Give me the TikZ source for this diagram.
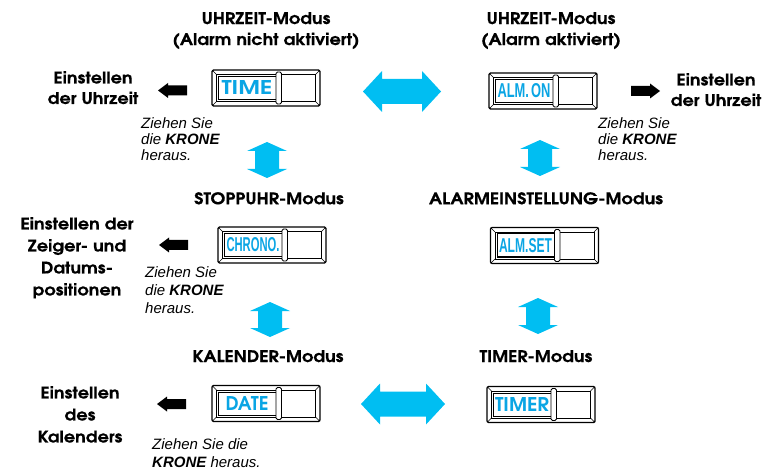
\documentclass[tikz,border=0pt]{standalone}
\usepackage{fontspec}
\setmainfont{Liberation Sans}
\newfontfamily\geo{texgyreadventor}[Extension=.otf, UprightFont=*-regular, BoldFont=*-bold, FakeStretch=1.11, BoldFeatures={FakeBold=0.5}]
\newfontfamily\lcdgeo{texgyreadventor}[Extension=.otf, UprightFont=*-regular, BoldFont=*-bold]
\usetikzlibrary{calc}

\definecolor{modeblue}{RGB}{0,190,242}
\definecolor{lcdblue}{RGB}{10,165,228}

\tikzset{
    mode/.style={font=\geo\bfseries\fontsize{16}{21}\selectfont, align=center, inner sep=0pt, anchor=north},
    setting/.style={font=\geo\bfseries\fontsize{16}{20.5}\selectfont, align=center, inner sep=0pt, anchor=north},
    hint/.style={font=\itshape\fontsize{15}{16}\selectfont, align=left, inner sep=0pt, anchor=north west},
    lcdframe/.style={draw, line width=1.4pt, rounded corners=1.5pt, minimum width=108pt, minimum height=36pt, inner sep=0pt}
}

% LCD window: name, position, text width, text
\newcommand\lcd[4]{%
    \node[lcdframe] (#1) at #2 {};
    \begin{scope}[shift={(#1.center)}]
        \draw[line width=0.6pt] (-49.5,-13.5) rectangle (49.5,13.5);
        \draw[line width=0.6pt] (-54,-18) -- (-49.5,-13.5) (54,-18) -- (49.5,-13.5)
            (-54,18) -- (-49.5,13.5) (54,18) -- (49.5,13.5);
        \draw[line width=1pt] (-47.5,-11.5) rectangle (10,11.5);
        \draw[fill=white, rounded corners=1.5pt, line width=0.8pt] (10,-16) rectangle (15.5,16);
        \node[lcdblue, inner sep=0pt] (#1-txt) at (-19,0) {\resizebox{#3}{14pt}{#4}};
    \end{scope}
}

% blue double arrows, tip to tip
\newcommand\dblarrowH[2]{%
    \fill[modeblue] (#1) -- ($(#1)+(19,-20.5)$) -- ($(#1)+(19,-12.5)$) -- ($(#2)+(-19,-12.5)$)
        -- ($(#2)+(-19,-20.5)$) -- (#2) -- ($(#2)+(-19,20.5)$) -- ($(#2)+(-19,12.5)$)
        -- ($(#1)+(19,12.5)$) -- ($(#1)+(19,20.5)$) -- cycle;
}
\newcommand\dblarrowV[2]{%
    \fill[modeblue] (#1) -- ($(#1)+(20,9)$) -- ($(#1)+(12,9)$) -- ($(#2)+(12,-9)$)
        -- ($(#2)+(20,-9)$) -- (#2) -- ($(#2)+(-20,-9)$) -- ($(#2)+(-12,-9)$)
        -- ($(#1)+(-12,9)$) -- ($(#1)+(-20,9)$) -- cycle;
}
% black arrow: tip, direction (1 left, -1 right)
\newcommand\setarrow[2]{%
    \fill[shift={(#1)}, xscale=#2] (0,0) -- (10,-7.5) -- (10,-5) -- (29,-5) -- (29,5) -- (10,5) -- (10,7.5) -- cycle;
}

\begin{document}
\begin{tikzpicture}[x=1pt, y=-1pt]
\useasboundingbox (0,0) rectangle (773,470);

% headers
\node[mode] (hdrTime) at (266,12) {UHRZEIT-Modus\\(Alarm nicht aktiviert)};
\node[mode] (hdrAlm) at (551,12) {UHRZEIT-Modus\\(Alarm aktiviert)};
\node[mode] (hdrStop) at (269,192) {STOPPUHR-Modus};
\node[mode] (hdrAlmSet) at (546,192) {ALARMEINSTELLUNG-Modus};
\node[mode] (hdrCal) at (268,350) {KALENDER-Modus};
\node[mode] (hdrTimer) at (536,350) {TIMER-Modus};

% windows
\lcd{time}{(266,88)}{51pt}{\lcdgeo\bfseries TIME}
\lcd{almon}{(543,91)}{53pt}{\bfseries ALM.\,ON}
\lcd{chrono}{(272,245)}{53pt}{\bfseries CHRONO.}
\lcd{almset}{(544.5,245.5)}{53pt}{\bfseries ALM.SET}
\lcd{date}{(266,403.5)}{43pt}{\lcdgeo\bfseries DATE}
\lcd{timer}{(541,404.5)}{54pt}{\lcdgeo\bfseries TIMER}

% settings
\node[setting] (setTime) at (93,71) {Einstellen\\der Uhrzeit};
\node[setting] (setTimeR) at (716,73) {Einstellen\\der Uhrzeit};
\node[setting, font=\geo\bfseries\fontsize{16}{22}\selectfont] (setHands) at (77,217) {Einstellen der\\Zeiger- und\\Datums-\\positionen};
\node[setting, font=\geo\bfseries\fontsize{16}{22}\selectfont] (setCal) at (80,386) {Einstellen\\des\\Kalenders};

\coordinate (tipA) at (158,90.5);
\coordinate (tipB) at (660,91);
\coordinate (tipC) at (159,245);
\coordinate (tipD) at (157,404);
\setarrow{tipA}{1}
\setarrow{tipB}{-1}
\setarrow{tipC}{1}
\setarrow{tipD}{1}

% hints
\node[hint] (hintA) at (141,117.5) {Ziehen Sie\\die \textbf{KRONE}\\heraus.};
\node[hint] (hintB) at (598,117.5) {Ziehen Sie\\die \textbf{KRONE}\\heraus.};
\node[hint, font=\itshape\fontsize{15}{18}\selectfont] (hintC) at (145,266) {Ziehen Sie\\die \textbf{KRONE}\\heraus.};
\node[hint, font=\itshape\fontsize{15}{18}\selectfont] (hintD) at (152,438) {Ziehen Sie die\\\textbf{KRONE} heraus.};

% mode changes
\coordinate (hA1) at (363,91.5);
\coordinate (hA2) at (441,91.5);
\coordinate (hB1) at (361,404);
\coordinate (hB2) at (445,404);
\dblarrowH{hA1}{hA2}
\dblarrowH{hB1}{hB2}
\coordinate (vA1) at (267,142);
\coordinate (vA2) at (267,178);
\coordinate (vB1) at (540,140);
\coordinate (vB2) at (540,176);
\coordinate (vC1) at (270,302);
\coordinate (vC2) at (270,337);
\coordinate (vD1) at (538,298);
\coordinate (vD2) at (538,334);
\dblarrowV{vA1}{vA2}
\dblarrowV{vB1}{vB2}
\dblarrowV{vC1}{vC2}
\dblarrowV{vD1}{vD2}

\end{tikzpicture}
\end{document}
